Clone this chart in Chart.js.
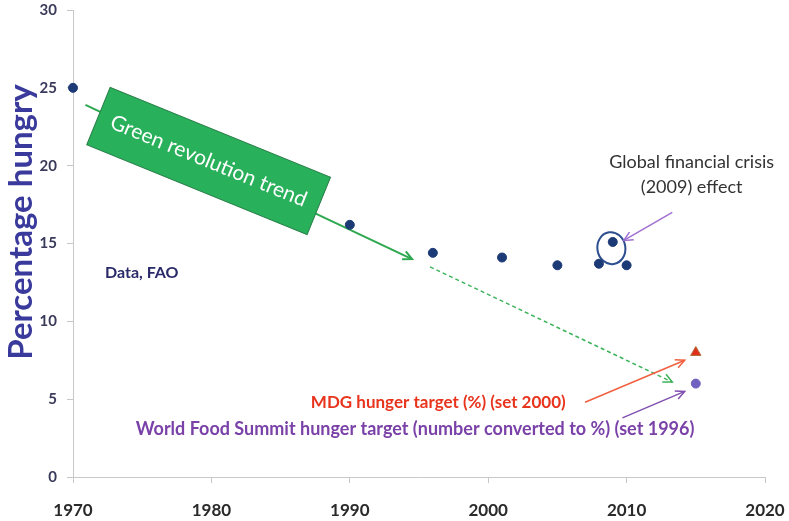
<!DOCTYPE html>
<html>
<head>
<meta charset="utf-8">
<script src="https://cdn.jsdelivr.net/npm/chart.js@4/dist/chart.umd.min.js"></script>
<style>
  html, body { margin: 0; padding: 0; background: #fff; }
  #wrap { width: 789px; height: 521px; }
</style>
</head>
<body>
<div id="wrap"><canvas id="c" width="789" height="521"></canvas></div>
<script>
// ---- data ----
const years      = [1970, 1990, 1996, 2001, 2005, 2008, 2009, 2010];
const hungryPct  = [25.0, 16.2, 14.4, 14.1, 13.6, 13.7, 15.1, 13.6];
const targetYear = [2015];
const mdgPct     = [8.0];
const wfsPct     = [6.0];
const xTicks = [1970, 1980, 1990, 2000, 2010, 2020];
const yTicks = [0, 5, 10, 15, 20, 25, 30];

const FONT = 'Lato, "Liberation Sans", sans-serif';

function pts(xs, ys){ return xs.map((x,i)=>({ x, y: ys[i] })); }

function arrow(ctx, x1, y1, x2, y2, color, width, dash){
  ctx.save();
  ctx.strokeStyle = color; ctx.lineWidth = width;
  ctx.setLineDash(dash || []);
  ctx.beginPath(); ctx.moveTo(x1, y1); ctx.lineTo(x2, y2); ctx.stroke();
  ctx.setLineDash([]);
  const a = Math.atan2(y2 - y1, x2 - x1), h = 10;
  ctx.beginPath();
  ctx.moveTo(x2 - h*Math.cos(a - 0.45), y2 - h*Math.sin(a - 0.45));
  ctx.lineTo(x2, y2);
  ctx.lineTo(x2 - h*Math.cos(a + 0.45), y2 - h*Math.sin(a + 0.45));
  ctx.stroke();
  ctx.restore();
}

const notes = {
  id: 'notes',
  beforeDatasetsDraw(chart){
    const { ctx, scales: { x, y } } = chart;
    const X = v => x.getPixelForValue(v), Y = v => y.getPixelForValue(v);

    // green revolution trend arrows
    arrow(ctx, X(1970.9), Y(23.9), X(1994.5), Y(14.0), '#2ea84f', 2);
    arrow(ctx, X(1995.8), Y(13.5), X(2013.3), Y(6.1), '#3cb35a', 1.5, [4, 3]);

    // green box
    ctx.save();
    ctx.translate(X(1979.8), Y(20.3));
    ctx.rotate(22.2 * Math.PI / 180);
    ctx.fillStyle = '#29b05a';
    ctx.strokeStyle = '#2a7f4a';
    ctx.lineWidth = 1;
    ctx.fillRect(-119, -31, 238, 62);
    ctx.strokeRect(-119, -31, 238, 62);
    ctx.fillStyle = '#ffffff';
    ctx.font = '21px ' + FONT;
    ctx.textAlign = 'center'; ctx.textBaseline = 'middle';
    ctx.fillText('Green revolution trend', 0, 0);
    ctx.restore();

    // crisis ellipse + arrow
    ctx.save();
    ctx.strokeStyle = '#2d4f8f'; ctx.lineWidth = 2;
    ctx.beginPath();
    ctx.ellipse(X(2008.9), Y(14.7), 14, 16, -0.15, 0, Math.PI*2);
    ctx.stroke();
    ctx.restore();
    arrow(ctx, X(2013.3), Y(17.0), X(2009.8), Y(15.2), '#a070d0', 1.5);

    // target arrows
    arrow(ctx, X(2007.0), Y(4.8), X(2014.2), Y(7.5), '#f06040', 1.5);
    arrow(ctx, X(2009.7), Y(3.8), X(2014.2), Y(5.5), '#8050b0', 1.5);

    // texts
    ctx.save();
    ctx.textBaseline = 'middle';
    ctx.font = '18px ' + FONT;
    ctx.fillStyle = '#333333';
    ctx.textAlign = 'center';
    ctx.fillText('Global financial crisis', X(2014.7), Y(20.2));
    ctx.fillText('(2009) effect', X(2014.7), Y(18.6));

    ctx.font = 'bold 16px ' + FONT;
    ctx.fillStyle = '#2a2a6a';
    ctx.textAlign = 'left';
    ctx.fillText('Data, FAO', 105, Y(13.1));

    ctx.font = 'bold 17px ' + FONT;
    ctx.textAlign = 'right';
    ctx.fillStyle = '#e8341c';
    ctx.fillText('MDG hunger target (%) (set 2000)', X(2005.6), Y(4.8));
    ctx.font = 'bold 18px ' + FONT;
    ctx.fillStyle = '#7a42a8';
    ctx.fillText('World Food Summit hunger target (number converted to %) (set 1996)', X(2014.9), Y(3.1));

    // y axis title
    ctx.translate(21, 222);
    ctx.rotate(-Math.PI / 2);
    ctx.textAlign = 'center';
    ctx.font = 'bold 33px ' + FONT;
    ctx.fillStyle = '#3a3a9c';
    ctx.fillText('Percentage hungry', 0, 0);
    ctx.restore();
  }
};

new Chart(document.getElementById('c'), {
  type: 'scatter',
  data: {
    datasets: [
      { label: 'Hungry', data: pts(years, hungryPct), backgroundColor: '#1c3a75', borderColor: '#1c3a75', pointRadius: 4.5, clip: false },
      { label: 'MDG', data: pts(targetYear, mdgPct), pointStyle: 'triangle', backgroundColor: '#e0301c', borderColor: '#b07040', pointRadius: 6, clip: false },
      { label: 'WFS', data: pts(targetYear, wfsPct), backgroundColor: '#7060c0', borderColor: '#7060c0', pointRadius: 4.5, clip: false }
    ]
  },
  options: {
    responsive: false,
    animation: false,
    layout: { padding: { left: 0, right: 24, top: 10, bottom: 0 } },
    plugins: { legend: { display: false }, tooltip: { enabled: false } },
    scales: {
      x: {
        type: 'linear', min: 1970, max: 2020,
        afterBuildTicks: ax => { ax.ticks = xTicks.map(v => ({ value: v })); },
        afterFit: ax => { ax.height = 44; ax.paddingLeft = 0; ax.paddingRight = 0; },
        grid: { drawOnChartArea: false, color: '#c8c8c8', tickLength: 6 },
        border: { color: '#c8c8c8' },
        ticks: { color: '#2a2a2a', padding: 17, callback: v => String(v), font: { family: FONT, size: 17, weight: 'bold' } }
      },
      y: {
        min: 0, max: 30,
        afterBuildTicks: ax => { ax.ticks = yTicks.map(v => ({ value: v })); },
        afterFit: ax => { ax.width = 73; ax.paddingTop = 0; ax.paddingBottom = 0; },
        grid: { drawOnChartArea: false, color: '#c8c8c8', tickLength: 6 },
        border: { color: '#c8c8c8' },
        ticks: { color: '#3a3a5a', padding: 10, font: { family: FONT, size: 15, weight: 'bold' } }
      }
    }
  },
  plugins: [notes]
});
</script>
</body>
</html>
